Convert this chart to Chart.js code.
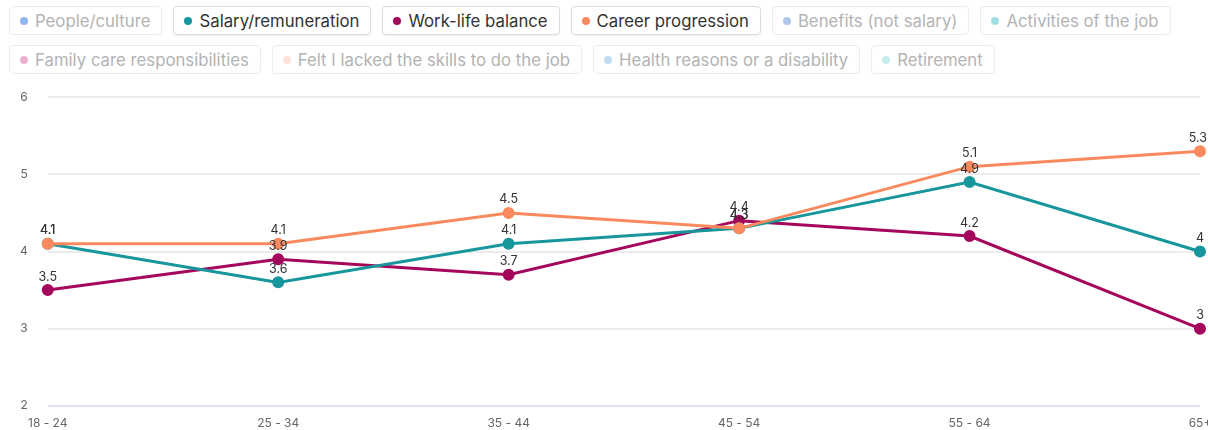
<!DOCTYPE html>
<html>
<head>
<meta charset="utf-8">
<script src="https://cdn.jsdelivr.net/npm/chart.js@4/dist/chart.umd.min.js"></script>
<style>
  html, body { margin: 0; padding: 0; background: #fff; }
  body { width: 1208px; height: 430px; position: relative; overflow: hidden; font-family: Inter, 'Noto Sans', sans-serif; }
  #legend { position: absolute; left: 9px; top: 6px; width: 1195px; display: flex; flex-wrap: wrap; gap: 10px 11px; }
  .pill { display: flex; align-items: center; height: 29px; padding: 0 11px 0 10px; border: 1px solid #ececec; border-radius: 4px; font-size: 16.75px; color: #b3b3b3; box-sizing: border-box; white-space: nowrap; }
  .pill.on { border-color: #dcdcdc; color: #333; box-shadow: 0 1px 2px rgba(0,0,0,0.06); }
  .dot { width: 8px; height: 8px; border-radius: 50%; margin-right: 7px; }
  #wrap { position: absolute; left: 0; top: 70px; width: 1208px; height: 363px; }
</style>
</head>
<body>
<div id="legend"></div>
<div id="wrap"><canvas id="chart"></canvas></div>
<script>
const ageGroups = ['18 - 24', '25 - 34', '35 - 44', '45 - 54', '55 - 64', '65+'];

const salary = [4.1, 3.6, 4.1, 4.3, 4.9, 4];
const workLife = [3.5, 3.9, 3.7, 4.4, 4.2, 3];
const career = [4.1, 4.1, 4.5, 4.3, 5.1, 5.3];

const legendNames = [
  'People/culture', 'Salary/remuneration', 'Work-life balance', 'Career progression',
  'Benefits (not salary)', 'Activities of the job', 'Family care responsibilities',
  'Felt I lacked the skills to do the job', 'Health reasons or a disability', 'Retirement',
];
const legendDots = [
  '#8db5ee', '#17979c', '#a4065c', '#fa8a5e',
  '#adc6e9', '#9fdfe2', '#eab0d2',
  '#fde2d9', '#c3daf3', '#c6ecee',
];
const legendOn = [false, true, true, true, false, false, false, false, false, false];

const yTicks = [2, 3, 4, 5, 6];

const legendEl = document.getElementById('legend');
legendNames.forEach((name, i) => {
  const pill = document.createElement('div');
  pill.className = 'pill' + (legendOn[i] ? ' on' : '');
  const dot = document.createElement('span');
  dot.className = 'dot';
  dot.style.background = legendDots[i];
  pill.appendChild(dot);
  pill.appendChild(document.createTextNode(name));
  legendEl.appendChild(pill);
});

// value labels above each point
const pointLabels = {
  id: 'pointLabels',
  afterDatasetsDraw(chart) {
    const { ctx } = chart;
    ctx.save();
    ctx.font = '12.5px Inter, sans-serif';
    ctx.fillStyle = '#333';
    ctx.textBaseline = 'bottom';
    ctx.textAlign = 'left';
    chart.data.datasets.forEach((ds, di) => {
      const meta = chart.getDatasetMeta(di);
      meta.data.forEach((pt, i) => {
        const txt = String(ds.data[i]);
        const w = ctx.measureText(txt).width;
        let x = pt.x - w / 2;
        if (x + w > chart.width - 1) x = chart.width - 1 - w;
        ctx.fillText(txt, x, pt.y - 7);
      });
    });
    ctx.restore();
  },
};

function line(label, data, color) {
  return {
    label, data,
    borderColor: color,
    backgroundColor: color,
    borderWidth: 3,
    pointRadius: 4.5,
    pointHoverRadius: 5,
    tension: 0,
  };
}

new Chart(document.getElementById('chart'), {
  type: 'line',
  data: {
    labels: ageGroups,
    datasets: [
      line('Career progression', career, '#fa8a5e'),
      line('Salary/remuneration', salary, '#17979c'),
      line('Work-life balance', workLife, '#a4065c'),
    ],
  },
  options: {
    responsive: true,
    maintainAspectRatio: false,
    animation: false,
    layout: { padding: { left: 0, right: 0, top: 6, bottom: 0 } },
    plugins: { legend: { display: false }, tooltip: { enabled: false } },
    scales: {
      x: {
        grid: { display: false },
        border: { display: false },
        ticks: { color: '#666', font: { size: 12, family: 'Inter' }, maxRotation: 0, padding: 2 },
        afterFit: (scale) => { scale.paddingRight = 5; },
      },
      y: {
        min: yTicks[0],
        max: yTicks[yTicks.length - 1],
        afterBuildTicks: (axis) => { axis.ticks = yTicks.map(v => ({ value: v })); },
        border: { display: false },
        grid: {
          drawTicks: false,
          lineWidth: 2,
          color: (c) => c.tick && c.tick.value === yTicks[0] ? '#dfe2f7' : '#ececec',
        },
        ticks: { color: '#666', font: { size: 12, family: 'Inter' }, padding: 20 },
      },
    },
  },
  plugins: [pointLabels],
});
</script>
</body>
</html>
